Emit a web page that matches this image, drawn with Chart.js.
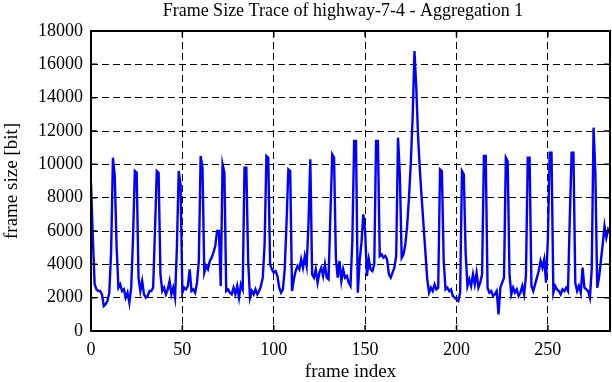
<!DOCTYPE html>
<html>
<head>
<meta charset="utf-8">
<script src="https://cdn.jsdelivr.net/npm/chart.js@4/dist/chart.umd.min.js"></script>
<style>
  html, body { margin: 0; padding: 0; background: #fff; }
  #wrap { width: 612px; height: 382px; }
</style>
</head>
<body>
<div id="wrap"><canvas id="trace" width="612" height="382"></canvas></div>
<script>
// frame sizes in bit, one per frame (frame index = position in list)
var frameSizes = [
  8900, 5600, 2800, 2500, 2400, 2400, 2200, 1500, 1600, 1800, 2300, 4700,
  10400, 9300, 5100, 2600, 2800, 2400, 2500, 2000, 2300, 1700, 2600, 5600,
  9600, 9500, 3200, 2400, 3000, 2200, 2000, 2100, 2400, 2400, 2600, 6000,
  9600, 9500, 3400, 2400, 2600, 2200, 2500, 3000, 2200, 2600, 2000, 5000,
  9600, 8800, 2300, 2600, 2500, 2700, 3700, 2400, 2500, 2300, 2900, 4200,
  10500, 9800, 3500, 3900, 3700, 4200, 4400, 4700, 5100, 6000, 6000, 2700,
  10000, 9500, 2400, 2500, 2300, 2200, 2600, 2200, 2700, 2000, 2800, 2500,
  9800, 9800, 4200, 2000, 2400, 2200, 2500, 2200, 2400, 2700, 3200, 5200,
  10500, 10400, 4000, 3700, 3500, 3600, 3300, 2600, 2300, 2500, 3700, 6500,
  9700, 9600, 2400, 3100, 3600, 3900, 3700, 4300, 3800, 4500, 3900, 6400,
  10300, 3400, 3200, 3700, 2900, 3500, 3800, 3300, 4000, 3200, 3100, 7000,
  10600, 10400, 4400, 3200, 4200, 3000, 3700, 3200, 3300, 2900, 2700, 5400,
  11400, 11400, 2300, 4200, 5300, 7000, 6000, 3300, 4300, 3700, 3600, 4000,
  11400, 11400, 4500, 4600, 4400, 4500, 4300, 3400, 3200, 3500, 3800, 4500,
  11600, 9400, 4400, 4600, 5200, 6300, 8000, 10100, 12800, 16800, 14600, 11600,
  9600, 7900, 6300, 4700, 3100, 2300, 2600, 2400, 2800, 2500, 2600, 9700,
  9600, 4200, 2500, 2600, 2400, 2500, 2100, 2000, 1900, 1800, 2300, 9600,
  9400, 4700, 2700, 3100, 2700, 3400, 2800, 3500, 2600, 2900, 3400, 10500,
  10500, 2600, 2300, 2400, 2100, 2200, 2400, 1000, 2600, 2900, 3200, 10400,
  10200, 3400, 2200, 2600, 2300, 2500, 2100, 2300, 2700, 2200, 3300, 10400,
  10400, 2700, 2400, 2800, 3200, 3600, 4200, 3800, 4300, 2900, 5500, 10700,
  10700, 2300, 2700, 2500, 2400, 2200, 2500, 2400, 2600, 2400, 6800, 10700,
  10700, 2900, 2400, 2700, 2300, 3800, 2600, 2500, 2400, 2000, 3700, 12200,
  9500, 2600, 3200, 4200, 5200, 6300, 5600, 6100, 5900
];
var xTicks = [0, 50, 100, 150, 200, 250];
var yTicks = [0, 2000, 4000, 6000, 8000, 10000, 12000, 14000, 16000, 18000];
var chartTitle = 'Frame Size Trace of highway-7-4 - Aggregation 1';

var points = frameSizes.map(function (v, i) { return { x: i, y: v }; });
var serif = '"Liberation Serif", "Times New Roman", serif';

// gnuplot-like frame, inward ticks and centred title
var gnuplotFrame = {
  id: 'gnuplotFrame',
  afterDraw: function (chart) {
    var ctx = chart.ctx, a = chart.chartArea;
    var xs = chart.scales.x, ys = chart.scales.y;
    ctx.save();
    ctx.strokeStyle = '#000';
    ctx.lineWidth = 1.5;
    ctx.setLineDash([]);
    xTicks.forEach(function (t) {
      var px = xs.getPixelForValue(t);
      ctx.beginPath();
      ctx.moveTo(px, a.bottom); ctx.lineTo(px, a.bottom - 6);
      ctx.moveTo(px, a.top); ctx.lineTo(px, a.top + 6);
      ctx.stroke();
    });
    yTicks.forEach(function (t) {
      var py = ys.getPixelForValue(t);
      ctx.beginPath();
      ctx.moveTo(a.left, py); ctx.lineTo(a.left + 6, py);
      ctx.moveTo(a.right, py); ctx.lineTo(a.right - 6, py);
      ctx.stroke();
    });
    ctx.lineWidth = 2;
    ctx.strokeRect(a.left, a.top, a.right - a.left, a.bottom - a.top);
    ctx.fillStyle = '#000';
    ctx.font = '18px ' + serif;
    ctx.textAlign = 'center';
    ctx.textBaseline = 'middle';
    ctx.fillText(chartTitle, 343, 11);
    ctx.restore();
  }
};

var plainNumber = function (v) { return String(v); };

new Chart(document.getElementById('trace').getContext('2d'), {
  type: 'line',
  data: {
    datasets: [{
      data: points,
      borderColor: '#0000ff',
      borderWidth: 2.4,
      pointRadius: 0,
      tension: 0,
      fill: false
    }]
  },
  options: {
    responsive: false,
    animation: false,
    layout: { padding: { top: 31, right: 2, left: 0, bottom: 0 } },
    plugins: { legend: { display: false }, tooltip: { enabled: false }, title: { display: false } },
    scales: {
      x: {
        type: 'linear',
        min: 0,
        max: 284,
        afterBuildTicks: function (s) { s.ticks = xTicks.map(function (v) { return { value: v }; }); },
        afterFit: function (s) { s.height = 51; },
        grid: { color: '#000', lineWidth: 1, drawTicks: false },
        border: { display: false, dash: [7, 4] },
        ticks: { color: '#000', font: { family: serif, size: 18 }, padding: 8, maxRotation: 0, callback: plainNumber },
        title: { display: true, text: 'frame index', color: '#000', font: { family: serif, size: 19 }, padding: { top: 0, bottom: -1 } }
      },
      y: {
        min: 0,
        max: 18000,
        afterBuildTicks: function (s) { s.ticks = yTicks.map(function (v) { return { value: v }; }); },
        afterFit: function (s) { s.width = 91; },
        grid: { color: '#000', lineWidth: 1, drawTicks: false },
        border: { display: false, dash: [7, 4] },
        ticks: { color: '#000', font: { family: serif, size: 18 }, padding: 8, callback: plainNumber },
        title: { display: true, text: 'frame size [bit]', color: '#000', font: { family: serif, size: 19 }, padding: { top: 1, bottom: 0 } }
      }
    }
  },
  plugins: [gnuplotFrame]
});
</script>
</body>
</html>
